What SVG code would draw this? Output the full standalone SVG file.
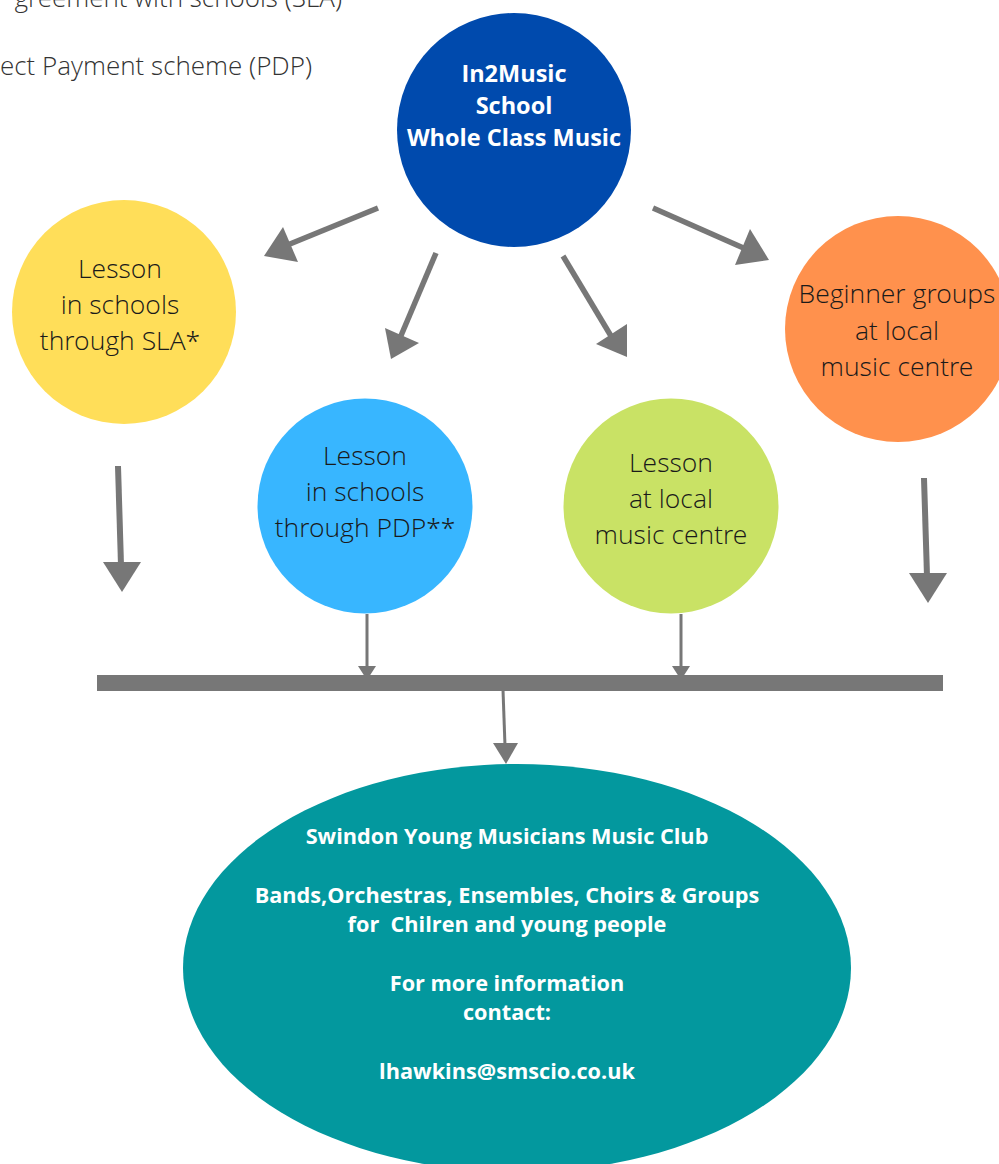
<svg xmlns="http://www.w3.org/2000/svg" width="999" height="1164" viewBox="0 0 999 1164">
<style>
.lt{font-family:"Open Sans Light","Open Sans","Noto Sans","Liberation Sans",sans-serif;font-weight:300;font-size:26.5px;fill:#1a1a1a;text-anchor:middle}
.note{font-family:"Open Sans Light","Open Sans","Noto Sans","Liberation Sans",sans-serif;font-weight:300;font-size:26px;fill:#333;text-anchor:end}
.bt{font-family:"Open Sans","Noto Sans","Liberation Sans",sans-serif;font-weight:700;fill:#fff;text-anchor:middle}
.ln{stroke:#777;fill:none}
.hd{fill:#777}
</style>
<rect width="999" height="1164" fill="#fff"/>
<g id="notes">
<text class="note" x="342" y="7">greement with schools (SLA)</text>
<text class="note" x="312" y="75">ect Payment scheme (PDP)</text>
</g>
<g id="connectors">
<line class="ln" stroke-width="5.5" x1="378" y1="208" x2="285" y2="246"/>
<polygon class="hd" points="264,256 283,227 298,262"/>
<line class="ln" stroke-width="5.5" x1="436" y1="253" x2="400" y2="338"/>
<polygon class="hd" points="391,359 385,328 419,343"/>
<line class="ln" stroke-width="5.5" x1="563" y1="256" x2="611" y2="336"/>
<polygon class="hd" points="627,357 596,344 627,324"/>
<line class="ln" stroke-width="5.5" x1="653" y1="208" x2="748" y2="250"/>
<polygon class="hd" points="769,260 750,229 735,265"/>
<line class="ln" stroke-width="6" x1="118" y1="466" x2="121" y2="565"/>
<polygon class="hd" points="122,592 103,562 141,562"/>
<line class="ln" stroke-width="6" x1="924" y1="478" x2="927" y2="576"/>
<polygon class="hd" points="928,603 909,573 947,573"/>
<line class="ln" stroke-width="3" x1="367" y1="614" x2="367" y2="668"/>
<polygon class="hd" points="367,680 358,666 376,666"/>
<line class="ln" stroke-width="3" x1="681" y1="614" x2="681" y2="668"/>
<polygon class="hd" points="681,680 672,666 690,666"/>
<rect x="97" y="675" width="846" height="16" fill="#777"/>
<line class="ln" stroke-width="3" x1="503" y1="690" x2="505" y2="746"/>
<polygon class="hd" points="506,764 493,743 518,743"/>
</g>
<g id="node-top">
<circle cx="514" cy="130" r="117" fill="#004AAD"/>
<text class="bt" font-size="23.5" x="514" y="82">In2Music</text>
<text class="bt" font-size="23.5" x="514" y="114">School</text>
<text class="bt" font-size="23.5" x="514" y="146">Whole Class Music</text>
</g>
<g id="node-sla">
<circle cx="124" cy="312" r="112" fill="#FFDE59"/>
<text class="lt" x="120" y="278">Lesson</text>
<text class="lt" x="120" y="314">in schools</text>
<text class="lt" x="120" y="350">through SLA*</text>
</g>
<g id="node-pdp">
<circle cx="365" cy="506" r="107.5" fill="#38B6FF"/>
<text class="lt" x="365" y="465">Lesson</text>
<text class="lt" x="365" y="501">in schools</text>
<text class="lt" x="365" y="537">through PDP**</text>
</g>
<g id="node-centre">
<circle cx="671" cy="506" r="107.5" fill="#C9E265"/>
<text class="lt" x="671" y="472">Lesson</text>
<text class="lt" x="671" y="508">at local</text>
<text class="lt" x="671" y="544">music centre</text>
</g>
<g id="node-beginner">
<circle cx="898" cy="329" r="113" fill="#FF914D"/>
<text class="lt" x="897" y="303">Beginner groups</text>
<text class="lt" x="897" y="340">at local</text>
<text class="lt" x="897" y="376">music centre</text>
</g>
<g id="node-club">
<ellipse cx="517" cy="968" rx="334" ry="204" fill="#03989E"/>
<text class="bt" font-size="21.7" x="507" y="844">Swindon Young Musicians Music Club</text>
<text class="bt" font-size="21.7" x="507" y="903">Bands,Orchestras, Ensembles, Choirs &amp; Groups</text>
<text class="bt" font-size="21.7" x="507" y="932" xml:space="preserve">for  Chilren and young people</text>
<text class="bt" font-size="21.7" x="507" y="991">For more information</text>
<text class="bt" font-size="21.7" x="507" y="1020">contact:</text>
<text class="bt" font-size="21.7" x="507" y="1079">lhawkins@smscio.co.uk</text>
</g>
</svg>
